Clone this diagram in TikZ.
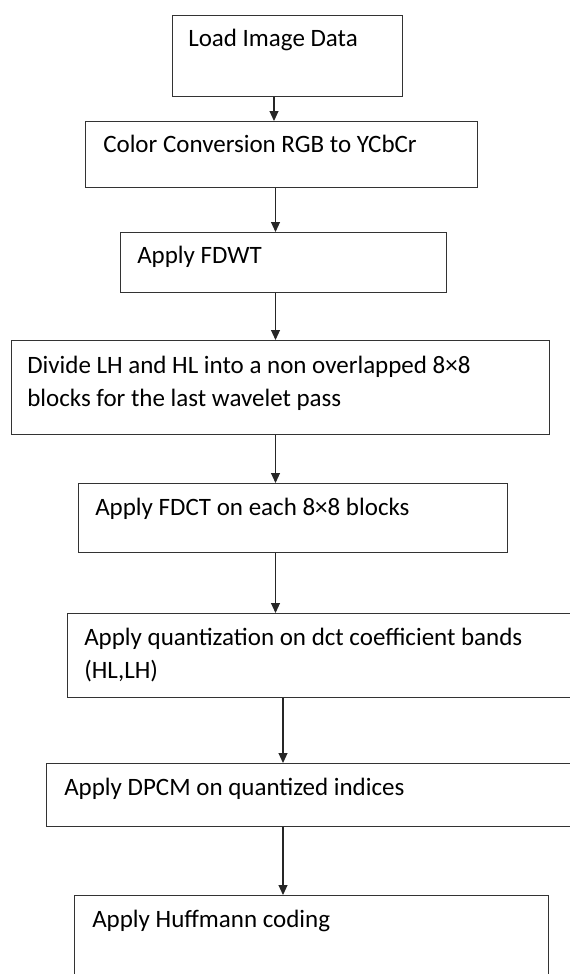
\documentclass[tikz,border=0pt]{standalone}
\usepackage{fontspec}
\setmainfont{Carlito}
\usetikzlibrary{arrows.meta}
\newlength{\pxu}
\setlength{\pxu}{0.75pt}

\begin{document}
\begin{tikzpicture}[x=0.75pt,y=-0.75pt,
  stage/.style={draw=black!80,line width=0.8pt,rectangle,inner sep=0pt,anchor=north west},
  stagetext/.style={anchor=base west,inner sep=0pt,align=left,
    font=\fontsize{18.75}{24.75}\selectfont},
  flow/.style={draw=black!85,line width=0.8pt,-{Triangle[width=6.75pt,length=7.5pt]}}]
\useasboundingbox (0,0) rectangle (570,974);
\clip (0,0) rectangle (570,974);
% columns the arrows run down
\coordinate (col1) at (274,0);
\coordinate (col2) at (275.5,0);
\coordinate (col3) at (283,0);
% the stages, top to bottom (base of a two-line text is its last line)
\node[stage,minimum width=230\pxu,minimum height=81\pxu] (load) at (172,15) {};
\node[stagetext] (loadtxt) at ([shift={(16,32)}]load.north west) {Load Image Data};
\node[stage,minimum width=392\pxu,minimum height=66\pxu] (rgb) at (85,121) {};
\node[stagetext] (rgbtxt) at ([shift={(18,31)}]rgb.north west) {Color Conversion RGB to YCbCr};
\node[stage,minimum width=326\pxu,minimum height=60\pxu] (fdwt) at (120,232) {};
\node[stagetext] (fdwttxt) at ([shift={(17,31)}]fdwt.north west) {Apply FDWT};
\node[stage,minimum width=538\pxu,minimum height=94\pxu] (divide) at (11,340) {};
\node[stagetext] (dividetxt) at ([shift={(16,66)}]divide.north west)
  {Divide LH and HL into a non overlapped 8×8\\blocks for the last wavelet pass};
\node[stage,minimum width=429\pxu,minimum height=69\pxu] (fdct) at (78,483) {};
\node[stagetext] (fdcttxt) at ([shift={(17,32)}]fdct.north west) {Apply FDCT on each 8×8 blocks};
\node[stage,minimum width=533\pxu,minimum height=84\pxu] (quant) at (67,613) {};
\node[stagetext] (quanttxt) at ([shift={(17,65)}]quant.north west)
  {Apply quantization on dct coefficient bands\\(HL,LH)};
\node[stage,minimum width=554\pxu,minimum height=63\pxu] (dpcm) at (46,763) {};
\node[stagetext] (dpcmtxt) at ([shift={(18,32)}]dpcm.north west) {Apply DPCM on quantized indices};
\node[stage,minimum width=474\pxu,minimum height=105\pxu] (huff) at (74,895) {};
\node[stagetext] (hufftxt) at ([shift={(18,32)}]huff.north west) {Apply Huffmann coding};
% arrows between stages
\draw[flow] (load.south -| col1) -- (rgb.north -| col1);
\draw[flow] (rgb.south -| col2) -- (fdwt.north -| col2);
\draw[flow] (fdwt.south -| col2) -- (divide.north -| col2);
\draw[flow] (divide.south -| col2) -- (fdct.north -| col2);
\draw[flow] (fdct.south -| col2) -- (quant.north -| col2);
\draw[flow] (quant.south -| col3) -- (dpcm.north -| col3);
\draw[flow] (dpcm.south -| col3) -- (huff.north -| col3);
\end{tikzpicture}
\end{document}
